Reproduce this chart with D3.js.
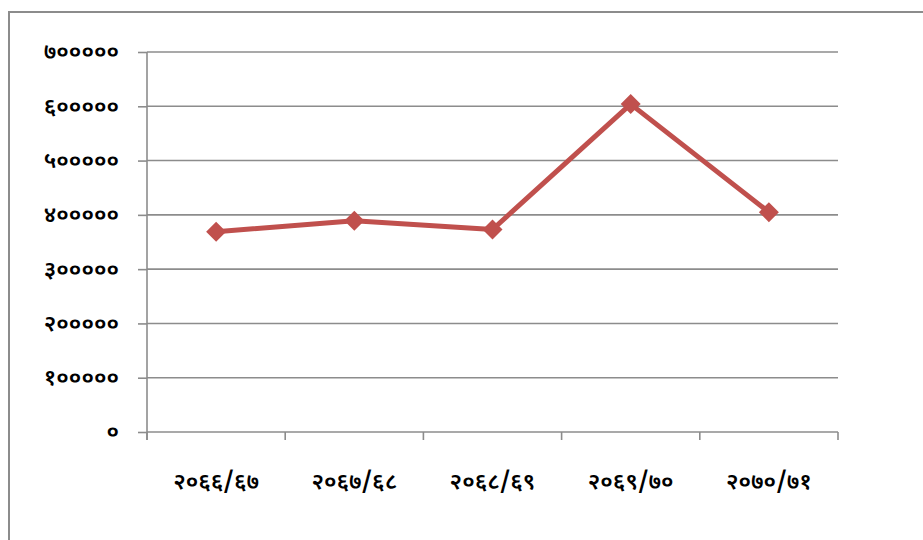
<!DOCTYPE html>
<html>
<head>
<meta charset="utf-8">
<script src="https://cdn.jsdelivr.net/npm/d3@7"></script>
<style>
  html, body { margin: 0; padding: 0; background: #fff; }
  svg { display: block; }
  text { font-family: "Noto Sans Devanagari", "Noto Sans", "Lohit Devanagari", "DejaVu Sans", sans-serif; }
</style>
</head>
<body>
<svg id="chart" width="923" height="540"></svg>
<script>
const categories = ["२०६६/६७", "२०६७/६८", "२०६८/६९", "२०६९/७०", "२०७०/७१"];
const values = [369000, 389000, 373000, 604000, 405000];
const yTicks = [0, 100000, 200000, 300000, 400000, 500000, 600000, 700000];
const devDigits = ["०","१","२","३","४","५","६","७","८","९"];

const toDev = n => String(n).replace(/[0-9]/g, d => devDigits[+d]);

const svg = d3.select("#chart");
const mLeft = 147, mRight = 838, mTop = 52, mBottom = 432;

// outer border
svg.append("rect")
  .attr("x", 9).attr("y", 12)
  .attr("width", 940).attr("height", 560)
  .attr("fill", "none").attr("stroke", "#8c8c8c").attr("stroke-width", 2);

const x = d3.scaleBand().domain(categories).range([mLeft, mRight]).padding(0);
const y = d3.scaleLinear().domain([0, 700000]).range([mBottom, mTop]);

// gridlines
svg.append("g").selectAll("line").data(yTicks.filter(t => t > 0)).join("line")
  .attr("x1", mLeft).attr("x2", mRight)
  .attr("y1", d => y(d)).attr("y2", d => y(d))
  .attr("stroke", "#8c8c8c").attr("stroke-width", 1.6);

// y axis
const yAxis = svg.append("g").attr("transform", `translate(${mLeft},0)`)
  .call(d3.axisLeft(y).tickValues(yTicks).tickSize(9).tickPadding(19).tickFormat(toDev));
yAxis.select(".domain").attr("stroke", "#8c8c8c").attr("stroke-width", 1.6)
  .attr("d", `M0,${mTop}V${mBottom + 8}`);
yAxis.selectAll(".tick line").attr("stroke", "#8c8c8c").attr("stroke-width", 1.6);
yAxis.selectAll(".tick text").attr("fill", "#000").attr("font-size", 23).attr("font-weight", 600)
  .attr("dy", "0.3em");

// x axis
const xAxis = svg.append("g").attr("transform", `translate(0,${mBottom})`);
xAxis.append("line").attr("x1", mLeft).attr("x2", mRight).attr("y1", 0).attr("y2", 0)
  .attr("stroke", "#8c8c8c").attr("stroke-width", 1.6);
const edges = categories.map(c => x(c)).concat([x(categories[categories.length - 1]) + x.bandwidth()]);
xAxis.selectAll("line.tk").data(edges).join("line").attr("class", "tk")
  .attr("x1", d => d).attr("x2", d => d).attr("y1", 0).attr("y2", 8)
  .attr("stroke", "#8c8c8c").attr("stroke-width", 1.6);
xAxis.selectAll("text").data(categories).join("text")
  .attr("x", d => x(d) + x.bandwidth() / 2)
  .attr("y", 57)
  .attr("text-anchor", "middle")
  .attr("font-size", 23).attr("font-weight", 600).attr("fill", "#000")
  .text(d => d);

// line
const pts = categories.map((c, i) => [x(c) + x.bandwidth() / 2, y(values[i])]);
svg.append("path").datum(pts)
  .attr("d", d3.line())
  .attr("fill", "none").attr("stroke", "#c0504d").attr("stroke-width", 5)
  .attr("stroke-linejoin", "round");

svg.append("g").selectAll("path").data(pts).join("path")
  .attr("transform", d => `translate(${d[0]},${d[1]})`)
  .attr("d", "M0,-10L10,0L0,10L-10,0Z")
  .attr("fill", "#c0504d");
</script>
</body>
</html>
